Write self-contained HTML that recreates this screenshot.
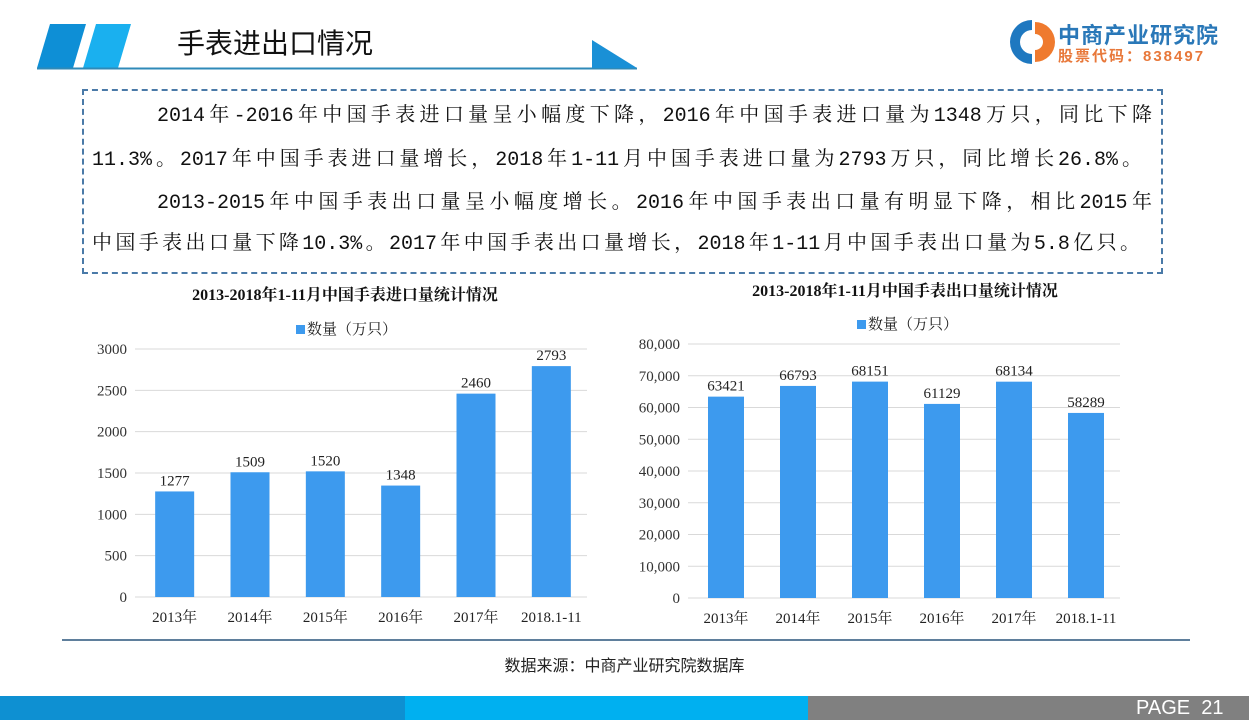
<!DOCTYPE html>
<html><head><meta charset="utf-8">
<style>
body{margin:0;width:1249px;height:720px;position:relative;overflow:hidden;background:#fff;font-family:"Liberation Sans","Noto Sans CJK SC",sans-serif;}
.abs{position:absolute;}
.txt{position:absolute;font-family:"Liberation Mono","Noto Serif CJK SC",serif;font-size:20px;color:#111;white-space:nowrap;text-align:justify;text-align-last:justify;line-height:24px;}
svg text{font-family:"Liberation Serif","Noto Serif CJK SC",serif;}
</style></head><body>
<svg class="abs" style="left:0;top:0" width="1249" height="80">
  <polygon points="50,24 86,24 73,68 37,68" fill="#0e8fd6"/>
  <polygon points="96,24 131,24 118,68 83,68" fill="#1ab0ef"/>
  <line x1="37" y1="68.5" x2="637" y2="68.5" stroke="#2f8ab8" stroke-width="2"/>
  <polygon points="592,40 637,68 592,68" fill="#1a90d6"/>
  <path d="M1032,20 A22,22 0 1,0 1032,64 L1032,54 A12,12 0 1,1 1032,30 Z" fill="#1e78c0"/>
  <path d="M1035,22 A20,20 0 0,1 1035,62 L1035,50 A8,8 0 0,0 1035,34 Z" fill="#ef7a2e"/>
</svg>
<div class="abs" style="left:177px;top:22px;font-size:28px;color:#111;">手表进出口情况</div>
<div class="abs" style="left:1058px;top:18px;font-size:22px;font-weight:bold;color:#2a78b8;letter-spacing:1px;">中商产业研究院</div>
<div class="abs" style="left:1058px;top:45px;font-size:15px;font-weight:bold;color:#e8783a;letter-spacing:2px;">股票代码：838497</div>

<div class="abs" style="left:82px;top:89px;width:1077px;height:181px;border:2px dashed #4a7aa8;"></div>
<div class="txt" style="left:157px;top:105px;width:995px;">2014年-2016年中国手表进口量呈小幅度下降，2016年中国手表进口量为1348万只，同比下降</div>
<div class="txt" style="left:92px;top:149px;width:1050px;">11.3%。2017年中国手表进口量增长，2018年1-11月中国手表进口量为2793万只，同比增长26.8%。</div>
<div class="txt" style="left:157px;top:192px;width:995px;">2013-2015年中国手表出口量呈小幅度增长。2016年中国手表出口量有明显下降，相比2015年</div>
<div class="txt" style="left:92px;top:233px;width:1048px;">中国手表出口量下降10.3%。2017年中国手表出口量增长，2018年1-11月中国手表出口量为5.8亿只。</div>

<svg id="charts" class="abs" style="left:0;top:0" width="1249" height="720"></svg>

<div class="abs" style="left:62px;top:639px;width:1128px;height:2px;background:#5f7f9c;"></div>
<div class="abs" style="left:0;width:1249px;top:652px;text-align:center;font-size:16px;color:#222;">数据来源：中商产业研究院数据库</div>
<div class="abs" style="left:0;top:696px;width:405px;height:24px;background:#0e90d2;"></div>
<div class="abs" style="left:405px;top:696px;width:403px;height:24px;background:#00b0f0;"></div>
<div class="abs" style="left:808px;top:696px;width:441px;height:24px;background:#808080;"></div>
<div class="abs" style="left:1136px;top:697px;font-size:20px;color:#fff;">PAGE&nbsp; 21</div>

<script>
const categories = ["2013年","2014年","2015年","2016年","2017年","2018.1-11"];
const importValues = [1277,1509,1520,1348,2460,2793];
const exportValues = [63421,66793,68151,61129,68134,58289];
const importTicks = [0,500,1000,1500,2000,2500,3000];
const exportTicks = [0,10000,20000,30000,40000,50000,60000,70000,80000];
const exportTickLabels = ["0","10,000","20,000","30,000","40,000","50,000","60,000","70,000","80,000"];

const NS="http://www.w3.org/2000/svg";
const svg=document.getElementById('charts');
function mk(tag,attrs,text){const e=document.createElementNS(NS,tag);for(const k in attrs)e.setAttribute(k,attrs[k]);if(text!==undefined)e.textContent=text;svg.appendChild(e);return e;}

function drawChart(cfg){
  const {x0,x1,y0,y1,max,ticks,tickLabels,values,barW,prefix,title,titleX,titleY,legendX,legendY}=cfg;
  const ys=v=>y0-(v/max)*(y0-y1);
  const bw=(x1-x0)/categories.length;
  const xs=i=>x0+bw*(i+0.5)+2;
  let t=mk('text',{x:titleX,y:titleY,'text-anchor':'middle','font-size':16,'font-weight':'bold',fill:'#111'},title);
  
  
  let ls=mk('rect',{x:legendX,y:legendY-9,width:9,height:9,fill:'#3d9aee'});
  
  
  let lt=mk('text',{x:legendX+11,y:legendY,'font-size':15,fill:'#222'},'数量（万只）');
  
  
  ticks.forEach((v,i)=>{
    const y=ys(v);
    let g=mk('line',{x1:x0,x2:x1,y1:y,y2:y,stroke:'#d9d9d9','stroke-width':1});
    
    
    let tl=mk('text',{x:x0-8,y:y+5,'text-anchor':'end','font-size':15,fill:'#333'},tickLabels[i]);
    
    
  });
  values.forEach((v,i)=>{
    const cx=xs(i);
    let b=mk('rect',{x:cx-barW/2,y:ys(v),width:barW,height:y0-ys(v),fill:'#3d9aee'});
    
    
    let vl=mk('text',{x:cx,y:ys(v)-6,'text-anchor':'middle','font-size':15,fill:'#222'},String(v));
    
    
    let cl=mk('text',{x:cx,y:y0+25,'text-anchor':'middle','font-size':15,fill:'#222'},categories[i]);
    
    
  });
}
drawChart({x0:135,x1:587,y0:597,y1:349,max:3000,ticks:importTicks,tickLabels:importTicks.map(String),values:importValues,barW:39,prefix:'import',title:'2013-2018年1-11月中国手表进口量统计情况',titleX:345,titleY:300,legendX:296,legendY:334});
drawChart({x0:688,x1:1120,y0:598,y1:344,max:80000,ticks:exportTicks,tickLabels:exportTickLabels,values:exportValues,barW:36,prefix:'export',title:'2013-2018年1-11月中国手表出口量统计情况',titleX:905,titleY:296,legendX:857,legendY:329});
</script>
</body></html>
